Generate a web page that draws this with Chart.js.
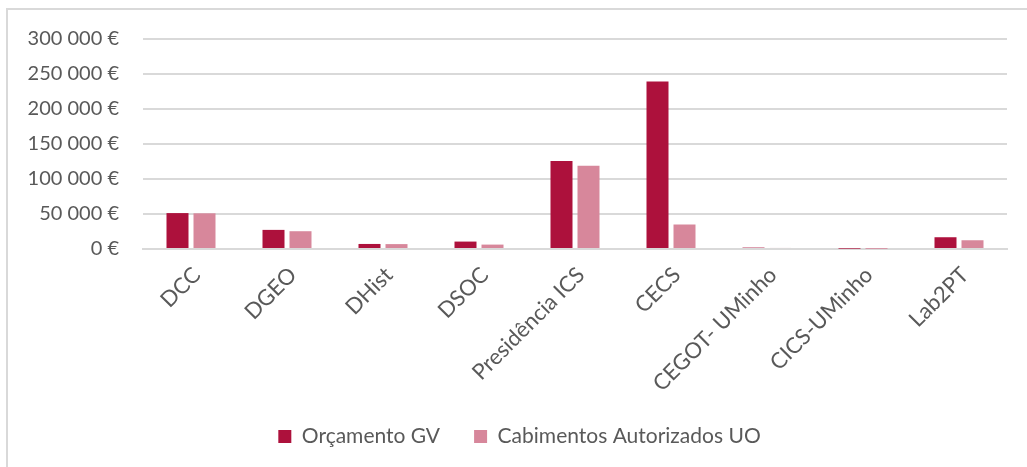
<!DOCTYPE html>
<html><head><meta charset="utf-8">
<script src="https://cdn.jsdelivr.net/npm/chart.js@4/dist/chart.umd.min.js"></script>
<style>
html,body{margin:0;padding:0;background:#fff;overflow:hidden;width:1027px;height:467px}
#frame{position:absolute;left:6px;top:8px;width:1100px;height:600px;border:2px solid #d9d9d9;box-sizing:border-box}
#wrap{position:absolute;left:0;top:0;width:1027px;height:467px}
</style></head>
<body>
<div id="frame"></div>
<div id="wrap"><canvas id="c" width="1027" height="467"></canvas></div>
<script>
const categories = ["DCC","DGEO","DHist","DSOC","Presidência ICS","CECS","CEGOT- UMinho","CICS-UMinho","Lab2PT"];
const orcamentoGV = [51300, 27300, 7200, 10600, 125600, 239200, 2000, 500, 16800];
const cabimentosUO = [51000, 25400, 7000, 6300, 118900, 35000, 1500, 300, 12500];
const seriesNames = ["Orçamento GV", "Cabimentos Autorizados UO"];
const yTicks = [0, 50000, 100000, 150000, 200000, 250000, 300000];

function fmt(v){
  return String(v).replace(/\B(?=(\d{3})+(?!\d))/g, " ") + " €";
}
const FONT = "Lato, 'Open Sans', sans-serif";
const TXT = "#595959";

const shiftLegend = {
  id: "shiftLegend",
  afterLayout(chart){
    if (chart.legend) { chart.legend.left += 16; chart.legend.right += 16; }
  }
};

new Chart(document.getElementById("c"), {
  type: "bar",
  data: {
    labels: categories,
    datasets: [
      {label: seriesNames[0], data: orcamentoGV, backgroundColor: "#ad113c", borderColor: "#ad113c", borderWidth: 0},
      {label: seriesNames[1], data: cabimentosUO, backgroundColor: "#d7879b", borderColor: "#d7879b", borderWidth: 0}
    ]
  },
  plugins: [shiftLegend],
  options: {
    responsive: false,
    animation: false,
    devicePixelRatio: 1,
    datasets: {bar: {categoryPercentage: 0.5625, barPercentage: 0.815}},
    layout: {padding: {top: 39, left: 0, right: 20, bottom: 10}},
    plugins: {
      tooltip: {enabled: false},
      legend: {
        position: "bottom",
        labels: {
          font: {family: FONT, size: 21},
          color: TXT,
          boxWidth: 13, boxHeight: 13,
          padding: 34
        }
      }
    },
    scales: {
      x: {
        grid: {display: false, drawTicks: false},
        border: {display: true, color: "#d9d9d9", width: 2},
        ticks: {
          font: {family: FONT, size: 22},
          color: TXT,
          minRotation: 45, maxRotation: 45,
          padding: 13,
          labelOffset: 6,
          autoSkip: false
        },
        afterFit: s => { s.height = 143; }
      },
      y: {
        min: 0, max: 300000,
        afterBuildTicks: s => { s.ticks = yTicks.map(v => ({value: v})); },
        grid: {color: "#d9d9d9", lineWidth: 2, drawTicks: false},
        border: {display: false},
        ticks: {
          font: {family: FONT, size: 20},
          color: TXT,
          padding: 24,
          callback: v => fmt(v)
        },
        afterFit: s => { s.width = 143; }
      }
    }
  }
});
</script>
</body></html>
